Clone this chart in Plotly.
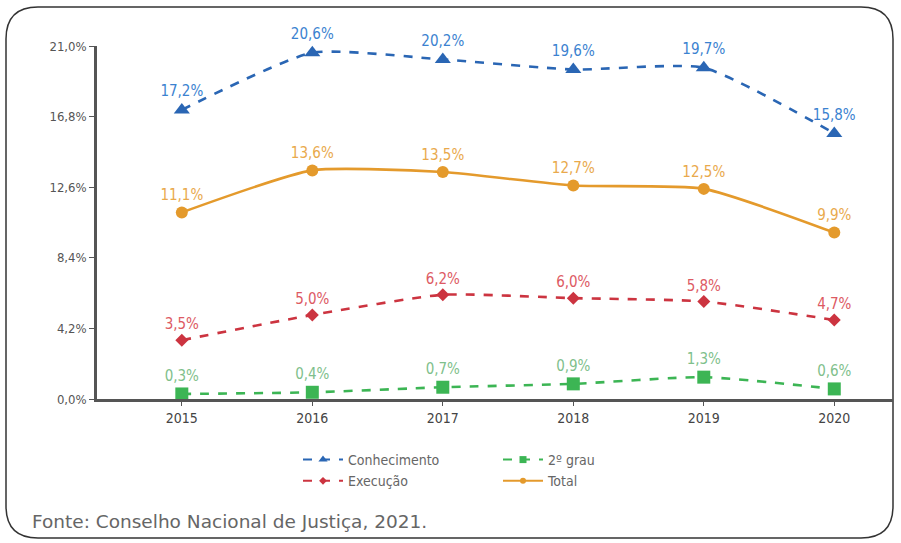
import plotly.graph_objects as go

years = [2015, 2016, 2017, 2018, 2019, 2020]
conhecimento = [17.2, 20.6, 20.2, 19.6, 19.7, 15.8]
total = [11.1, 13.6, 13.5, 12.7, 12.5, 9.9]
execucao = [3.5, 5.0, 6.2, 6.0, 5.8, 4.7]
segundo_grau = [0.3, 0.4, 0.7, 0.9, 1.3, 0.6]
y_ticks = [0.0, 4.2, 8.4, 12.6, 16.8, 21.0]
source = "Fonte: Conselho Nacional de Justiça, 2021."

W, H = 901, 543
ML, MR, MT, MB = 97, 8, 46, 144
PW, PH = W - ML - MR, H - MT - MB


def px(x):
    return (x - ML) / PW


def py(y):
    return 1 - (y - MT) / PH


def fmt(v):
    return f"{v:.1f}%".replace(".", ",")


LABEL_FONT = "DejaVu Sans Condensed, Liberation Sans Narrow, Arial Narrow, sans-serif"

series = [
    ("Conhecimento", conhecimento, "#2a66b4", "#3b82d0", "dash", "triangle-up", 14, 8, "legend"),
    ("Execução", execucao, "#cc3440", "#dd5a63", "dash", "diamond", 10, 6, "legend"),
    ("2º grau", segundo_grau, "#3cb554", "#7fbf8c", "dash", "square", 13, 7, "legend2"),
    ("Total", total, "#e49a2c", "#e9a94c", "solid", "circle", 12, 6, "legend2"),
]

fig = go.Figure()
for name, vals, col, lcol, dash, sym, size, lsize, leg in series:
    fig.add_trace(go.Scatter(
        x=years, y=vals, name=name, mode="lines+markers+text",
        line=dict(color=col, width=2.6, dash=dash, shape="spline", smoothing=0.55),
        marker=dict(symbol=sym, size=size, color=col),
        text=[fmt(v) for v in vals], textposition="top center",
        textfont=dict(color=lcol, size=15, family=LABEL_FONT),
        showlegend=False, cliponaxis=False,
    ))
    # legend-only entry with small marker
    fig.add_trace(go.Scatter(
        x=[None], y=[None], name=name, mode="lines+markers",
        line=dict(color=col, width=2, dash=dash),
        marker=dict(symbol=sym, size=lsize, color=col),
        legend=leg, showlegend=True,
    ))

legend_common = dict(yanchor="top", xanchor="left",
                     font=dict(size=14, color="#666", family=LABEL_FONT),
                     tracegroupgap=0, itemwidth=40,
                     bgcolor="rgba(0,0,0,0)")

fig.update_layout(
    width=W, height=H,
    margin=dict(l=ML, r=MR, t=MT, b=MB),
    paper_bgcolor="white", plot_bgcolor="white",
    showlegend=True,
    legend=dict(x=px(298), y=py(444), **legend_common),
    legend2=dict(x=px(498), y=py(444), **legend_common),
    xaxis=dict(range=[2014.35, 2020.45], tickvals=years, ticktext=[str(y) for y in years],
               showgrid=False, zeroline=False, showline=True, linecolor="#555", linewidth=2.5,
               ticks="outside", ticklen=4, tickcolor="#555",
               tickfont=dict(size=14, color="#444", family=LABEL_FONT)),
    yaxis=dict(range=[0, 21], tickvals=y_ticks, ticktext=[fmt(v) for v in y_ticks],
               showgrid=False, zeroline=False, showline=True, linecolor="#555", linewidth=2.5,
               ticks="outside", ticklen=5, tickcolor="#555",
               tickfont=dict(size=13, color="#555", family=LABEL_FONT)),
)

# rounded frame
x0, x1, y0, y1, r = 6, 893, 7, 538, 32
path = (f"M {px(x0+r)} {py(y0)} L {px(x1-r)} {py(y0)} "
        f"Q {px(x1)} {py(y0)} {px(x1)} {py(y0+r)} "
        f"L {px(x1)} {py(y1-r)} Q {px(x1)} {py(y1)} {px(x1-r)} {py(y1)} "
        f"L {px(x0+r)} {py(y1)} Q {px(x0)} {py(y1)} {px(x0)} {py(y1-r)} "
        f"L {px(x0)} {py(y0+r)} Q {px(x0)} {py(y0)} {px(x0+r)} {py(y0)} Z")
fig.add_shape(type="path", path=path, xref="paper", yref="paper",
              line=dict(color="#333", width=1.5), layer="below")

fig.add_annotation(text=source, x=px(30), y=py(521), xref="paper", yref="paper",
                   xanchor="left", yanchor="middle", showarrow=False,
                   font=dict(size=18.5, color="#666", family="DejaVu Sans, sans-serif"))

fig.write_html("out.html")
